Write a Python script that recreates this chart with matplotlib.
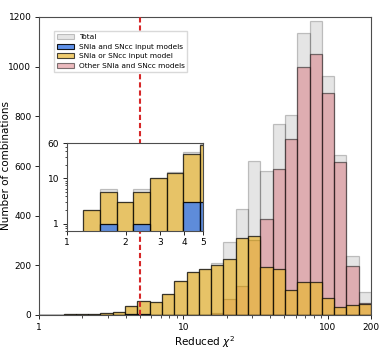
import numpy as np
import matplotlib
matplotlib.use("Agg")
import matplotlib.pyplot as plt
from matplotlib.ticker import FixedLocator, FixedFormatter, NullLocator
from matplotlib.patches import Patch

# 27 log-spaced bins between chi2 = 1 and 200
edges = np.logspace(0, np.log10(200), 28)

total = [0, 2, 6, 3, 6, 10, 14, 38, 58, 52, 85, 138, 172, 185, 208, 293, 427,
         620, 581, 769, 806, 1134, 1184, 962, 646, 237, 91]
both_input = [0, 0, 1, 0, 1, 0, 0, 3, 3, 0, 0, 0, 0, 0, 0, 0, 0,
              0, 0, 0, 0, 0, 0, 0, 0, 0, 0]
one_input = [0, 2, 5, 3, 5, 10, 13, 35, 55, 51, 85, 138, 172, 185, 200, 227, 309,
             319, 195, 184, 99, 134, 134, 67, 31, 39, 43]
other = [0, 0, 0, 0, 0, 0, 0, 0, 0, 0, 0, 0, 0, 0, 8, 65, 117,
         302, 386, 587, 707, 999, 1051, 895, 615, 199, 48]

c_total = "0.55"
c_blue = "#4f86e8"
c_yellow = "#e9b737"
c_pink = "#d9777f"

left = edges[:-1]
widths = np.diff(edges)


def draw_hists(ax, lw=0.9):
    ax.bar(left, total, width=widths, align="edge", color=c_total, alpha=0.22,
           edgecolor="k", linewidth=lw)
    ax.bar(left, other, width=widths, align="edge", color=c_pink, alpha=0.5,
           edgecolor="k", linewidth=lw)
    ax.bar(left, one_input, width=widths, align="edge", color=c_yellow, alpha=0.72,
           edgecolor="k", linewidth=lw)
    ax.bar(left, both_input, width=widths, align="edge", color=c_blue, alpha=0.9,
           edgecolor="k", linewidth=lw)


fig = plt.figure(figsize=(3.91, 3.5), dpi=100)
ax = fig.add_axes([39 / 391, 35 / 350, 332 / 391, 298 / 350])
draw_hists(ax)
ax.axvline(5, color="#d62728", ls=(0, (2.5, 1.4)), lw=1.5, zorder=5)

ax.set_xscale("log")
ax.set_xlim(1, 200)
ax.set_ylim(0, 1200)
ax.xaxis.set_major_locator(FixedLocator([1, 10, 100, 200]))
ax.xaxis.set_major_formatter(FixedFormatter(["1", "10", "100", "200"]))
ax.set_yticks(np.arange(0, 1201, 200))
ax.tick_params(labelsize=6.5, length=3, width=0.6, pad=2.5)
ax.tick_params(which="minor", length=2, width=0.5)
ax.set_xlabel(r"Reduced $\chi^2$", fontsize=7.5, labelpad=2)
ax.set_ylabel("Number of combinations", fontsize=7.5)
ax.yaxis.set_label_coords(-0.083, 0.5)
for s in ax.spines.values():
    s.set_linewidth(0.8)
    s.set_color("0.3")

handles = [
    Patch(facecolor=c_total, alpha=0.22, edgecolor="k", linewidth=0.8),
    Patch(facecolor=c_blue, alpha=0.9, edgecolor="k", linewidth=0.8),
    Patch(facecolor=c_yellow, alpha=0.72, edgecolor="k", linewidth=0.8),
    Patch(facecolor=c_pink, alpha=0.5, edgecolor="k", linewidth=0.8),
]
labels = ["Total", "SNIa and SNcc input models", "SNIa or SNcc input model",
          "Other SNIa and SNcc models"]
ax.legend(handles, labels, loc="upper left", bbox_to_anchor=(0.035, 0.965),
          fontsize=5.3, frameon=True, fancybox=False, framealpha=1,
          edgecolor="0.85", handlelength=2.3, handleheight=0.7,
          labelspacing=0.46, borderpad=0.4, handletextpad=0.6)

# inset: low chi2 region on a log count scale
ins = fig.add_axes([66.7 / 391, (350 - 230.7) / 350, 136.6 / 391, 87.4 / 350])
draw_hists(ins)
ins.set_xscale("log")
ins.set_yscale("log")
ins.set_xlim(1, 5)
ins.set_ylim(0.7, 60)
ins.xaxis.set_major_locator(FixedLocator([1, 2, 3, 4, 5]))
ins.xaxis.set_major_formatter(FixedFormatter(["1", "2", "3", "4", "5"]))
ins.xaxis.set_minor_locator(NullLocator())
ins.yaxis.set_major_locator(FixedLocator([1, 10, 60]))
ins.yaxis.set_major_formatter(FixedFormatter(["1", "10", "60"]))
ins.tick_params(labelsize=6.5, length=3, width=0.6, pad=2.5)
ins.tick_params(which="minor", length=1.8, width=0.5)
for s in ins.spines.values():
    s.set_linewidth(0.8)
    s.set_color("0.3")

fig.savefig("out.png", dpi=100)
